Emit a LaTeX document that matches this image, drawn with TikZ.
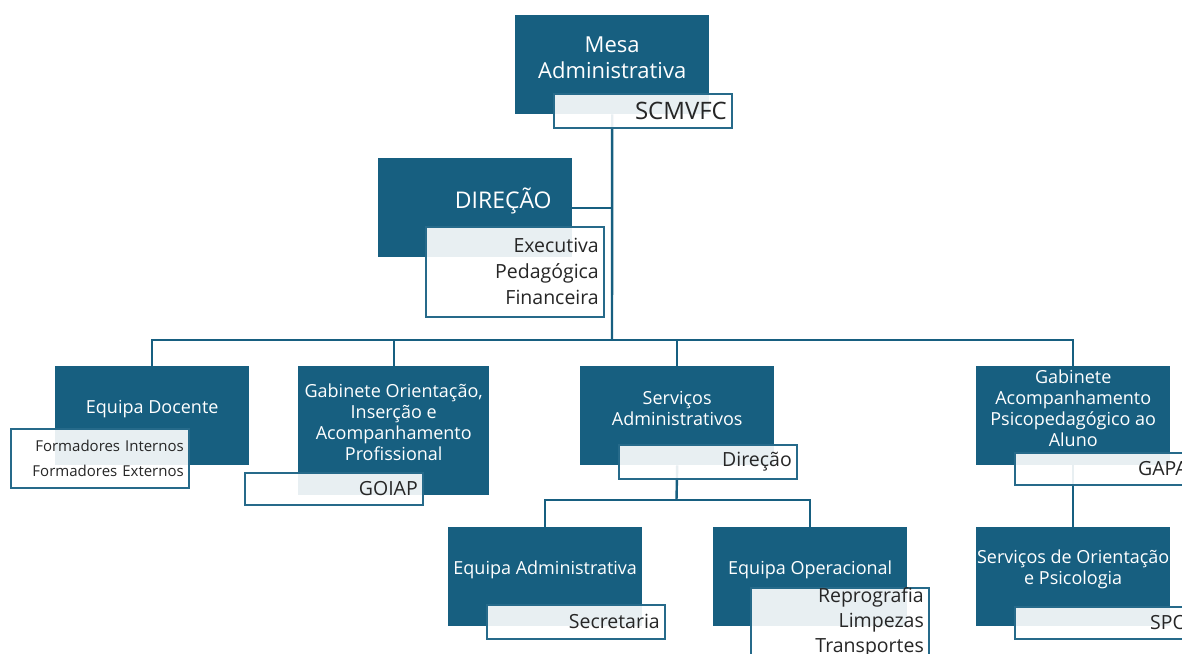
\documentclass[tikz,border=0pt]{standalone}
\usepackage{fontspec}
\setmainfont{Open Sans}
\usepackage{tikz}
\usetikzlibrary{positioning}
\usetikzlibrary{backgrounds}
\definecolor{unitblue}{RGB}{23,95,128}
\definecolor{tagline}{RGB}{38,106,138}
\tikzset{unit/.style = {fill=unitblue, draw=none, anchor=north west, inner sep=0pt,
                        minimum width=194pt, minimum height=99pt},
         unittext/.style = {text=white, align=center, yshift=7pt,
                            font=\fontsize{18}{21}\selectfont},
         tag/.style = {draw=tagline, line width=1.6pt, fill=white, fill opacity=0.9,
                       text opacity=1, text=black!85, anchor=north west, align=right,
                       text width=168pt, inner xsep=5pt, inner ysep=0pt, minimum height=34pt,
                       font=\fontsize{19.5}{26}\selectfont},
         link/.style = {draw=unitblue, line width=2.4pt}}

\begin{document}
\begin{tikzpicture}[x=1pt, y=-1pt]
    \useasboundingbox (0, 0) rectangle (1182, 653);
    \clip (0, 0) rectangle (1182, 653);
    % top
    \node [unit] (mesa) at (515, 15) {};
    \node [unittext, font=\fontsize{22}{26}\selectfont] (mesa-t) at (mesa.center) {Mesa\\Administrativa};
    \node [tag, font=\fontsize{24}{26}\selectfont] (mesa-l) at (553, 93) {SCMVFC};
    \node [unit] (dir) at (378, 158) {};
    \node [unittext, font=\fontsize{23}{26}\selectfont] (dir-t) at ([xshift=28pt]dir.center) {DIREÇÃO};
    \node [tag, minimum height=90pt] (dir-l) at (425, 226) {Executiva\\Pedagógica\\Financeira};
    % second row
    \node [unit] (doc) at (55, 366) {};
    \node [unittext] (doc-t) at (doc.center) {Equipa Docente};
    \node [tag, minimum height=59pt, font=\fontsize{15}{25}\selectfont] (doc-l) at (10, 428) {Formadores Internos\\Formadores Externos};
    \node [unit, minimum width=191pt, minimum height=129pt] (goiap) at (298, 366) {};
    \node [unittext, yshift=1.5pt] (goiap-t) at (goiap.center) {Gabinete Orientação,\\Inserção e\\Acompanhamento\\Profissional};
    \node [tag, minimum height=32pt] (goiap-l) at (244, 472) {GOIAP};
    \node [unit] (serv) at (580, 366) {};
    \node [unittext] (serv-t) at (serv.center) {Serviços\\Administrativos};
    \node [tag] (serv-l) at (618, 444) {Direção};
    \node [unit] (gapa) at (976, 366) {};
    \node [unittext] (gapa-t) at (gapa.center) {Gabinete\\Acompanhamento\\Psicopedagógico ao\\Aluno};
    \node [tag, minimum height=32pt] (gapa-l) at (1014, 452) {GAPA};
    % third row
    \node [unit] (admin) at (448, 527) {};
    \node [unittext] (admin-t) at (admin.center) {Equipa Administrativa};
    \node [tag] (admin-l) at (486, 604) {Secretaria};
    \node [unit] (oper) at (713, 527) {};
    \node [unittext] (oper-t) at (oper.center) {Equipa Operacional};
    \node [tag, minimum height=70pt, font=\fontsize{19.5}{25}\selectfont] (oper-l) at (750, 587) {Reprografia\\Limpezas\\Transportes};
    \node [unit] (spo) at (976, 527) {};
    \node [unittext] (spo-t) at (spo.center) {Serviços de Orientação\\e Psicologia};
    \node [tag, minimum height=32pt] (spo-l) at (1014, 606) {SPO};
    % connectors
    \coordinate (hub) at (612, 340);
    \coordinate (hub2) at (676.5, 500);
    \begin{scope}[on background layer]
      \draw [link] (mesa.south) -- (hub);
      \draw [link] (dir.east) -- (dir.east -| hub);
      \draw [link] (doc.north) |- (hub) -| (gapa.north);
      \draw [link] (goiap.north) -- (goiap.north |- hub);
      \draw [link] (serv.north) -- (serv.north |- hub);
      \draw [link] (serv.south) -- (hub2);
      \draw [link] (admin.north) |- (hub2) -| (oper.north);
      \draw [link] (gapa.south) -- (spo.north);
    \end{scope}
\end{tikzpicture}
\end{document}
